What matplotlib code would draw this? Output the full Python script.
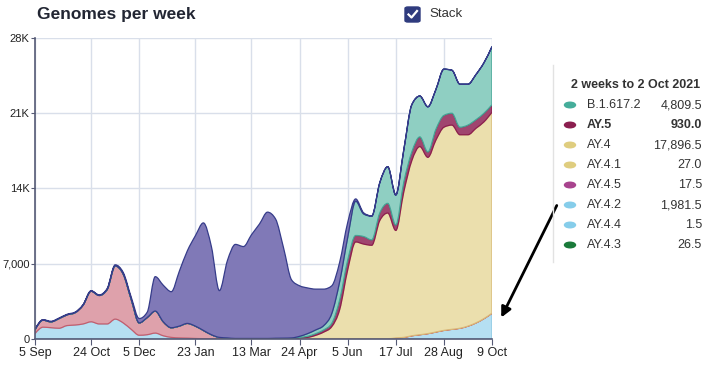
import matplotlib
matplotlib.use("Agg")
import matplotlib.pyplot as plt
import matplotlib.dates as mdates
from matplotlib.patches import FancyBboxPatch, FancyArrowPatch, PathPatch
from matplotlib.path import Path
from matplotlib.lines import Line2D
import numpy as np
import pandas as pd

plt.rcParams['font.family'] = ['Liberation Sans', 'DejaVu Sans']

# weekly dates, 5 Sep 2020 .. 9 Oct 2021
weeks = pd.date_range("2020-09-05", "2021-10-09", freq="7D")

# genomes per week (thousands), stacked bottom to top
light_blue = [0.5, 1.1, 1.05, 1.0, 1.25, 1.3, 1.4, 1.6, 1.4, 1.4, 1.85, 1.5, 0.9, 0.35, 0.4,
              0.55, 0.3, 0.15, 0.1, 0.08, 0.05, 0.03, 0.02, 0.02, 0.02,
              0.02, 0.02, 0.02, 0.02, 0.02, 0.02, 0.02, 0.02, 0.02, 0.02,
              0.02, 0.02, 0.02, 0.02, 0.02, 0.02, 0.02, 0.02, 0.02, 0.02,
              0.1, 0.15, 0.3, 0.4, 0.5, 0.65, 0.8, 0.9, 1.0, 1.2, 1.5, 1.9, 2.4]
pink = [0.35, 0.65, 0.55, 0.9, 1.0, 1.15, 1.75, 2.85, 2.65, 3.2, 4.95, 4.55, 2.8, 1.15, 1.6,
        2.05, 1.3, 0.9, 1.1, 1.37, 1.15, 0.77, 0.38, 0.13, 0.08,
        0.03, 0.03, 0.03, 0.03, 0.03, 0.03, 0.03, 0.03, 0.03, 0.03,
        0.02, 0.02, 0.02, 0.02, 0.01, 0.01, 0.01, 0.0, 0.0, 0.0,
        0.0, 0.0, 0.0, 0.0, 0.0, 0.0, 0.0, 0.0, 0.0, 0.0, 0.0, 0.0, 0.0]
ay4 = [0.0] * 33 + [0.05, 0.1, 0.3, 0.6, 1.1, 2.7, 6.4, 9.0, 8.8, 8.7, 11.0, 11.7, 10.0,
                    13.55, 16.3, 17.5, 16.4, 17.85, 18.9, 19.0, 18.0, 17.8, 18.1, 18.3, 18.7]
ay5 = [0.0] * 33 + [0.05, 0.1, 0.15, 0.2, 0.3, 0.9, 0.9, 0.6, 0.7, 0.5, 0.7, 0.9, 0.5,
                    0.9, 0.8, 0.9, 0.5, 1.0, 1.1, 1.1, 0.7, 0.9, 0.8, 0.8, 0.7]
b16172 = [0.0] * 30 + [0.02, 0.03, 0.05, 0.1, 0.25, 0.35, 0.4, 0.9, 1.7, 2.1, 3.2, 2.1, 2.2,
                       2.8, 3.4, 2.8, 3.0, 4.4, 3.8, 4.2, 3.7, 4.3, 4.0, 4.0, 3.8, 4.2, 4.7, 5.4]
purple = [0.05, 0.05, 0.05, 0.05, 0.05, 0.05, 0.05, 0.05, 0.05, 0.1, 0.1, 0.15, 0.2,
          0.4, 0.5, 3.2, 3.4, 3.35, 5.1, 6.75, 8.4, 10.0, 8.2, 4.35, 7.2,
          8.75, 8.55, 9.65, 10.65, 11.75, 11.1, 8.4, 5.4, 4.7, 4.25, 3.8, 3.4, 2.6, 1.8, 1.4,
          0.2, 0.1, 0.03, 0.02, 0.01, 0.0, 0.0, 0.0, 0.0, 0.0, 0.0, 0.0, 0.0, 0.0, 0.0, 0.0, 0.0, 0.0]

layers = [light_blue, pink, ay4, ay5, b16172, purple]
fills = ["#b5dff2", "#dea1ab", "#ebdfad", "#a0456f", "#8fcfc2", "#8079b7"]
edges = ["#8cc8e2", "#c45d6d", "#d9b978", "#8b1e4f", "#45a596", "#363c8a"]

# legend (tooltip) data
leg_names = ["B.1.617.2", "AY.5", "AY.4", "AY.4.1", "AY.4.5", "AY.4.2", "AY.4.4", "AY.4.3"]
leg_values = ["4,809.5", "930.0", "17,896.5", "27.0", "17.5", "1,981.5", "1.5", "26.5"]
leg_colors = ["#45ad9a", "#8b1e4f", "#dfcd7f", "#dfcd7f", "#a8448e", "#86cdea", "#86cdea", "#1b7a3a"]

tick_dates = ["2020-09-05", "2020-10-24", "2020-12-05", "2021-01-23", "2021-03-13",
              "2021-04-24", "2021-06-05", "2021-07-17", "2021-08-28", "2021-10-09"]


def tangents(x, y):
    # monotone cubic slopes, like d3.curveMonotoneX
    h = np.diff(x)
    s = np.diff(y) / h
    m = np.zeros(len(x))
    for i in range(1, len(x) - 1):
        p = (s[i - 1] * h[i] + s[i] * h[i - 1]) / (h[i - 1] + h[i])
        m[i] = (np.sign(s[i - 1]) + np.sign(s[i])) * min(abs(s[i - 1]), abs(s[i]), 0.5 * abs(p))
    m[0] = (3 * s[0] - m[1]) / 2
    m[-1] = (3 * s[-1] - m[-2]) / 2
    return m


def curve_segments(x, y):
    m = tangents(x, y)
    segs = []
    for i in range(len(x) - 1):
        dx = (x[i + 1] - x[i]) / 3
        segs.append(((x[i] + dx, y[i] + dx * m[i]), (x[i + 1] - dx, y[i + 1] - dx * m[i + 1]),
                     (x[i], y[i]), (x[i + 1], y[i + 1])))
    return segs


fig = plt.figure(figsize=(7.23, 3.65), dpi=100)
ax = fig.add_axes([35 / 723, 1 - 339 / 365, 457 / 723, 301 / 365])

xn = mdates.date2num(weeks)
base = np.zeros(len(xn))
for s, fc, ec in zip(layers, fills, edges):
    top = base + np.array(s) * 1000
    verts = [(xn[0], top[0])]
    codes = [Path.MOVETO]
    for c1, c2, p0, p1 in curve_segments(xn, top):
        verts += [c1, c2, p1]
        codes += [Path.CURVE4] * 3
    verts.append((xn[-1], base[-1]))
    codes.append(Path.LINETO)
    for c1, c2, p0, p1 in reversed(curve_segments(xn, base)):
        verts += [c2, c1, p0]
        codes += [Path.CURVE4] * 3
    verts.append((xn[0], top[0]))
    codes.append(Path.CLOSEPOLY)
    ax.add_patch(PathPatch(Path(verts, codes), fc=fc, ec=ec, lw=0.9))
    base = top

ax.set_xlim(xn[0], xn[-1])
ax.set_ylim(0, 28000)
ax.set_yticks([0, 7000, 14000, 21000, 28000])
ax.set_yticklabels(["0", "7,000", "14K", "21K", "28K"])
td = pd.to_datetime(tick_dates)
ax.set_xticks(mdates.date2num(td))
ax.set_xticklabels([f"{d.day} {d.strftime('%b')}" for d in td])
ax.grid(True, color="#d9dfea", lw=1)
ax.set_axisbelow(True)
for sp in ["top", "right"]:
    ax.spines[sp].set_visible(False)
for sp in ["left", "bottom"]:
    ax.spines[sp].set_color("#555a75")
    ax.spines[sp].set_linewidth(1.2)
    ax.spines[sp].set_zorder(3)
ax.tick_params(labelsize=9, colors="#555a75", labelcolor="#222", length=4, pad=2)
ax.tick_params(axis="y", labelsize=8, length=3, pad=1)

fig.text(37 / 723, 1 - 15 / 365, "Genomes per week", fontsize=12.5, fontweight="bold",
         color="#222633", va="center")

# stack checkbox
fig.patches.append(FancyBboxPatch((405 / 723, 1 - 22 / 365), 15 / 723, 15 / 365,
                                  boxstyle="round,pad=0,rounding_size=0.004",
                                  transform=fig.transFigure, fc="#2f3b7e", ec="#2f3b7e"))
fig.lines.append(Line2D([408.5 / 723, 411.5 / 723, 417 / 723],
                        [1 - 14.5 / 365, 1 - 17.5 / 365, 1 - 11 / 365],
                        transform=fig.transFigure, color="white", lw=1.6))
fig.text(429 / 723, 1 - 14 / 365, "Stack", fontsize=9.5, color="#333", va="center")

# legend panel
fig.lines.append(Line2D([553 / 723, 553 / 723], [1 - 65 / 365, 1 - 262 / 365],
                        transform=fig.transFigure, color="#e2e2e2", lw=1))
fig.text(571 / 723, 1 - 85 / 365, "2 weeks to 2 Oct 2021", fontsize=9, fontweight="bold",
         color="#333", va="center")
for k, (n, v, c) in enumerate(zip(leg_names, leg_values, leg_colors)):
    y = 1 - (105 + 20 * k) / 365
    w = "bold" if n == "AY.5" else "normal"
    fig.patches.append(plt.Circle((570 / 723, y), 5.5 / 723, transform=fig.transFigure,
                                  color=c))
    fig.text(587 / 723, y, n, fontsize=9, fontweight=w, color="#333", va="center")
    fig.text(702 / 723, y, v, fontsize=9, fontweight=w, color="#333", va="center", ha="right")

# hand-drawn arrow
fig.patches.append(FancyArrowPatch(
    (558 / 723, 1 - 203 / 365), (500 / 723, 1 - 320 / 365), transform=fig.transFigure,
    arrowstyle="-|>,head_length=6,head_width=3", color="black", lw=2))

fig.savefig("out.png", dpi=100)
